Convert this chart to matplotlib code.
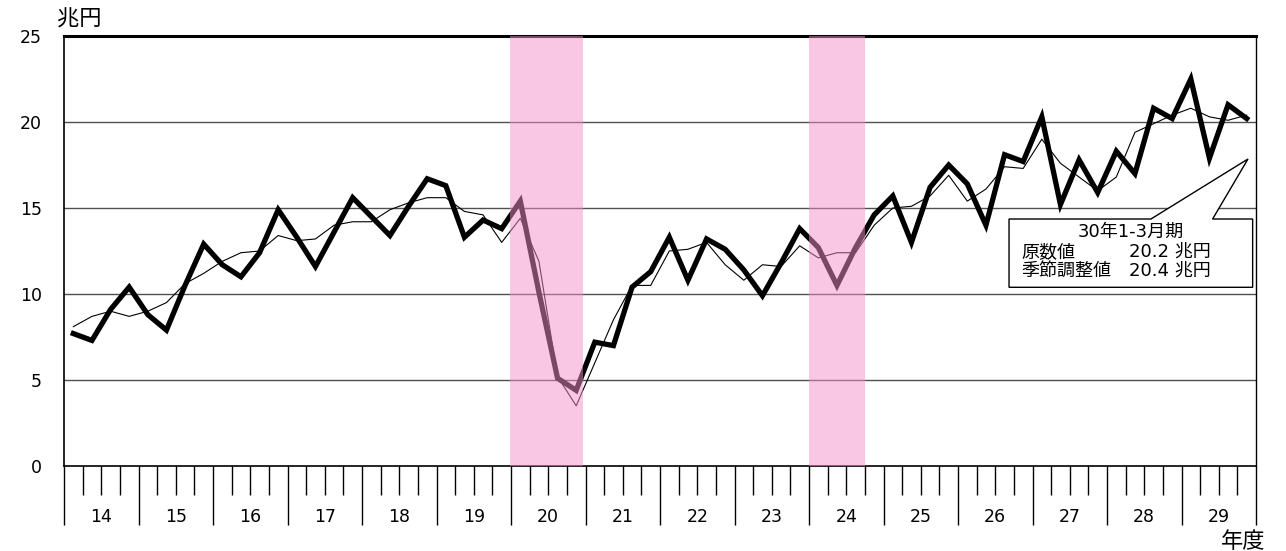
import matplotlib
matplotlib.use("Agg")
import matplotlib.pyplot as plt
from matplotlib.patches import Polygon
from matplotlib.ticker import MultipleLocator
import numpy as np

# DejaVu for the (wide) digits, Noto CJK for the kanji
plt.rcParams['font.family'] = ['DejaVu Sans', 'Noto Sans CJK JP']

# fiscal years (Heisei), 4 quarters each
years = [str(y) for y in range(14, 30)]

# 原数値 (raw), trillion yen, quarterly
raw = [7.7, 7.3, 9.1, 10.4, 8.8, 7.9, 10.5, 12.9,
       11.7, 11.0, 12.4, 14.9, 13.3, 11.6, 13.6, 15.6,
       14.5, 13.4, 15.1, 16.7, 16.3, 13.3, 14.3, 13.8,
       15.4, 10.1, 5.1, 4.4, 7.2, 7.0, 10.4, 11.3,
       13.3, 10.8, 13.2, 12.6, 11.4, 9.9, 11.8, 13.8,
       12.7, 10.5, 12.7, 14.6, 15.7, 13.0, 16.2, 17.5,
       16.4, 14.0, 18.1, 17.7, 20.3, 15.2, 17.8, 15.9,
       18.3, 17.0, 20.8, 20.2, 22.5, 17.9, 21.0, 20.2]

# 季節調整値 (seasonally adjusted)
sa = [8.1, 8.7, 9.0, 8.7, 9.0, 9.5, 10.6, 11.2,
      11.9, 12.4, 12.5, 13.4, 13.1, 13.2, 14.0, 14.2,
      14.2, 14.9, 15.3, 15.6, 15.6, 14.8, 14.6, 13.0,
      14.4, 11.9, 5.2, 3.5, 6.0, 8.5, 10.5, 10.5,
      12.5, 12.6, 13.0, 11.7, 10.8, 11.7, 11.6, 12.8,
      12.1, 12.4, 12.4, 14.0, 15.0, 15.1, 15.7, 16.9,
      15.4, 16.1, 17.4, 17.3, 19.0, 17.6, 16.8, 16.0,
      16.8, 19.4, 19.9, 20.4, 20.8, 20.3, 20.1, 20.4]

# shaded periods, in quarter units from start of FY14
bands = [(23.95, 27.85), (40.0, 43.0)]

x = np.arange(len(raw)) + 0.5

fig = plt.figure(figsize=(12.86, 5.51), dpi=100)
ax = fig.add_axes([64/1286, 1-466/551, 1192/1286, 430/551])

ax.set_xlim(0, len(raw))
ax.set_ylim(0, 25)

for g in [5, 10, 15, 20]:
    ax.axhline(g, color='#505050', lw=1.0, zorder=1)

ax.plot(x, sa, color='black', lw=0.8, zorder=3)
ax.plot(x, raw, color='black', lw=3.8, zorder=4, solid_joinstyle='miter')

for a, b in bands:
    ax.axvspan(a, b, facecolor='#F590C8', alpha=0.5, lw=0, zorder=5)

# callout
box = [(50.74, 14.36), (58.36, 14.36), (63.57, 17.85), (61.67, 14.36),
       (63.82, 14.36), (63.82, 10.39), (50.74, 10.39)]
ax.add_patch(Polygon(box, closed=True, facecolor='white', edgecolor='black',
                     lw=1.0, zorder=6))
fs = 13
ax.text(57.3, 13.6, '30年1-3月期', ha='center', va='center', fontsize=fs, zorder=7)
ax.text(51.4, 12.44, '原数値', ha='left', va='center', fontsize=fs, zorder=7)
ax.text(57.2, 12.44, '20.2 兆円', ha='left', va='center', fontsize=fs, zorder=7)
ax.text(51.4, 11.34, '季節調整値', ha='left', va='center', fontsize=fs, zorder=7)
ax.text(57.2, 11.34, '20.4 兆円', ha='left', va='center', fontsize=fs, zorder=7)

# axes frame
ax.spines['top'].set_linewidth(2.2)
ax.spines['left'].set_linewidth(1.2)
ax.spines['right'].set_linewidth(1.0)
ax.spines['bottom'].set_linewidth(1.2)

ax.yaxis.set_major_locator(MultipleLocator(5))
ax.tick_params(axis='y', length=0, pad=16, labelsize=12.5)

ax.xaxis.set_major_locator(MultipleLocator(4))
ax.xaxis.set_minor_locator(MultipleLocator(1))
ax.tick_params(axis='x', which='major', length=42.5, width=1.0, direction='out',
               labelbottom=False)
ax.tick_params(axis='x', which='minor', length=21, width=1.0, direction='out')

for k, yl in enumerate(years):
    ax.text(4*k + 2, -0.1186, yl, transform=ax.get_xaxis_transform(),
            ha='center', va='center', fontsize=12.5)

fig.text(57/1286, 1-19/551, '兆円', ha='left', va='center', fontsize=16)
fig.text(1243/1286, 1-542/551, '年度', ha='center', va='center', fontsize=16)

fig.savefig('out.png', dpi=100)
